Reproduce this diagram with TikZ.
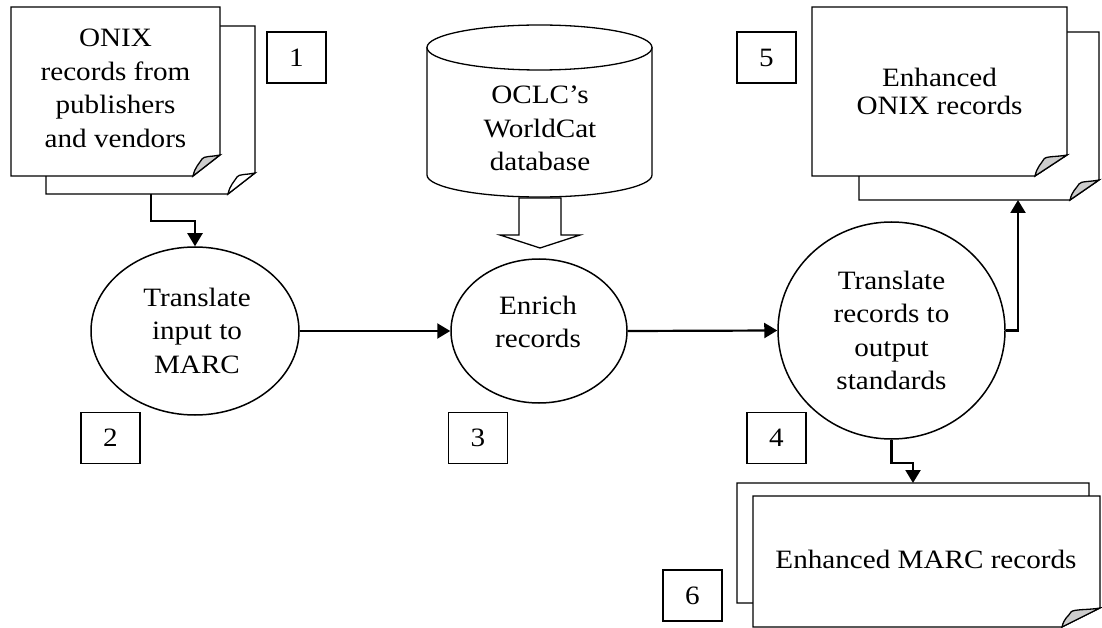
\documentclass[tikz,border=0pt]{standalone}
\usepackage{fontspec}
\setmainfont{Liberation Serif}[FakeStretch=1.1]
\usetikzlibrary{arrows.meta,shapes.geometric}
\newcommand\mlines[1]{\begin{tabular}[t]{@{}c@{}}#1\end{tabular}}
% x1 y1 x2 y2 cutx cuty flapfill
\newcommand\docpage[7]{%
  \draw[docline, fill=white] (#1,#2) -- (#3,#2) -- (#3,#6) -- (#5,#4) -- (#1,#4) -- cycle;
  \draw[docline, fill=#7] (#5,#4) .. controls +(2,-9) and +(-3,5) .. ({#5+9},{#6+4})
     .. controls +(2,-3) and +(-10,2) .. (#3,#6) -- cycle;
}
\begin{document}
\begin{tikzpicture}[x=1pt,y=-1pt,
  docline/.style={draw=black, line width=1.3pt, line join=miter},
  proc/.style={draw=black, ellipse, line width=1.5pt, inner sep=0pt, fill=white},
  conn/.style={draw=black, line width=2.2pt, -{Triangle[length=13pt,width=15pt]}},
  numbox/.style={draw=black, line width=1.3pt, minimum width=59pt, minimum height=51pt, inner sep=0pt, font=\fontsize{26.5}{33.5}\selectfont},
  txt/.style={inner sep=0pt, anchor=base, font=\fontsize{26.5}{33.5}\selectfont},
]
\useasboundingbox (0,0) rectangle (1102,628);

% ---- Document 1: ONIX records
\docpage{46}{26}{255}{194}{228}{173}{white}
\docpage{11}{7}{220}{176}{193}{155}{black!20}
\node[txt] (t1) at (115.5,47) {\mlines{ONIX\\records from\\publishers\\and vendors}};
\coordinate (d1out) at (151,194);

% ---- Database cylinder
\node[inner sep=0pt, minimum width=225pt, minimum height=172pt] (db) at (539.5,111) {};
\draw[docline, fill=white] (427,47.5) -- (427,175) arc[start angle=180, end angle=0, x radius=112.5, y radius=22] -- (652,47.5) -- cycle;
\draw[docline, fill=white] (539.5,47.5) ellipse[x radius=112.5, y radius=22.5];
\node[txt] (tdb) at (540,104) {\mlines{OCLC’s\\WorldCat\\database}};
% block arrow
\draw[docline, fill=white] (519,198) -- (561,198) -- (561,235) -- (580,235) -- (540,248) -- (500,235) -- (519,235) -- cycle;

% ---- Document 5: Enhanced ONIX
\docpage{859}{32}{1099}{200}{1070}{180}{black!20}
\docpage{812}{7}{1067}{176}{1035}{155}{black!20}
\node[txt, font=\fontsize{26.5}{28}\selectfont] (t5) at (939.5,87) {\mlines{Enhanced\\ONIX records}};
\coordinate (d5in) at (1018,200);

% ---- Document 6: Enhanced MARC
\docpage{737}{483}{1089}{603}{1062}{590}{white}
\docpage{753}{496}{1100}{627}{1062}{608}{black!20}
\node[txt] (t6) at (926,568) {Enhanced MARC records};
\coordinate (d6in) at (913,483);

% ---- Processes
\node[proc, minimum width=208pt, minimum height=168pt] (e1) at (195,331) {};
\node[txt] (te1) at (197,306) {\mlines{Translate\\input to\\MARC}};
\node[proc, minimum width=176pt, minimum height=144pt] (e2) at (539,331) {};
\node[txt] (te2) at (538,314) {\mlines{Enrich\\records}};
\node[proc, minimum width=227pt, minimum height=217pt] (e3) at (891.5,330.5) {};
\node[txt] (te3) at (891.5,289) {\mlines{Translate\\records to\\output\\standards}};

% ---- Number boxes
\node[numbox] (n1) at (296.5,57.5) {1};
\node[numbox] (n2) at (110.5,438) {2};
\node[numbox] (n3) at (478,438) {3};
\node[numbox] (n4) at (776.5,438) {4};
\node[numbox] (n5) at (766.5,57.5) {5};
\node[numbox] (n6) at (692.5,595.5) {6};

% ---- Connectors
\draw[conn] (d1out) -- ++(0,27) -| (e1.north);
\draw[conn] (e1.east) -- (e2.west);
\draw[conn] (e2.east) -- (e3.west);
\draw[conn] (e3.east) -| (d5in);
\draw[conn] (e3.south) -- ++(0,23) -| (d6in);
\end{tikzpicture}
\end{document}
